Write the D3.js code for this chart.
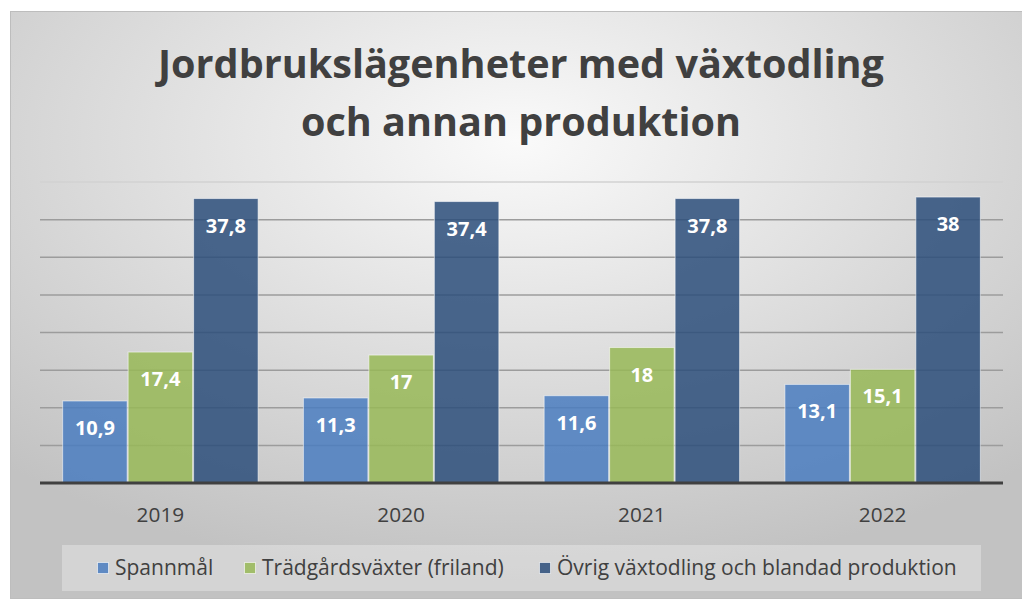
<!DOCTYPE html>
<html lang="sv">
<head>
    <meta charset="UTF-8">
    <title>Jordbrukslägenheter med växtodling och annan produktion</title>
    <script src="https://d3js.org/d3.v7.min.js"></script>
    <style>
        body { margin: 0; background: #fff; }
        svg { display: block; font-family: "Open Sans", "Noto Sans", sans-serif; }
    </style>
</head>
<body>
    <script>
        // Data
        const years = ["2019", "2020", "2021", "2022"];
        const seriesNames = ["Spannmål", "Trädgårdsväxter (friland)", "Övrig växtodling och blandad produktion"];
        const spannmal = [10.9, 11.3, 11.6, 13.1];
        const tradgard = [17.4, 17, 18, 15.1];
        const ovrig = [37.8, 37.4, 37.8, 38];
        const yTicks = [5, 10, 15, 20, 25, 30, 35, 40];
        const seriesColors = ["#4a7cbf", "#98b857", "#2c4d7a"];

        const W = 1022, H = 599;
        const svg = d3.select("body").append("svg")
            .attr("width", W)
            .attr("height", H);

        // bakgrund
        const defs = svg.append("defs");
        const grad = defs.append("radialGradient")
            .attr("id", "bg")
            .attr("cx", "50%").attr("cy", "22%")
            .attr("r", "75%");
        grad.append("stop").attr("offset", "0%").attr("stop-color", "#fafafa");
        grad.append("stop").attr("offset", "100%").attr("stop-color", "#c2c2c2");

        svg.append("rect")
            .attr("x", 10.5).attr("y", 11.5)
            .attr("width", W - 10).attr("height", 587)
            .attr("fill", "url(#bg)")
            .attr("stroke", "#bdbdbd")
            .attr("stroke-width", 1);

        // titel
        const title = svg.append("text")
            .attr("text-anchor", "middle")
            .attr("fill", "#404040")
            .attr("font-weight", "bold")
            .attr("font-size", 39.6);
        title.append("tspan").attr("x", 521).attr("y", 78).text("Jordbrukslägenheter med växtodling");
        title.append("tspan").attr("x", 521).attr("y", 136).text("och annan produktion");

        // skalor
        const x0 = d3.scaleBand()
            .domain(years)
            .range([40, 1003])
            .paddingInner(0.18)
            .paddingOuter(0.09);

        const x1 = d3.scaleBand()
            .domain(d3.range(seriesNames.length))
            .range([0, x0.bandwidth()])
            .padding(0.015);

        const y = d3.scaleLinear()
            .domain([0, 40])
            .range([483, 182]);

        // stödlinjer
        svg.append("g")
            .selectAll("line")
            .data(yTicks)
            .join("line")
            .attr("x1", 40).attr("x2", 1003)
            .attr("y1", d => y(d)).attr("y2", d => y(d))
            .attr("stroke", d => d === 40 ? "#d2d2d2" : "#9c9c9c")
            .attr("stroke-width", 1.5);

        const allSeries = [spannmal, tradgard, ovrig];
        const fmt = v => String(v).replace(".", ",");

        const groups = svg.append("g")
            .selectAll("g")
            .data(years)
            .join("g")
            .attr("transform", d => `translate(${x0(d)},0)`);

        const cells = groups.selectAll("g")
            .data((d, i) => allSeries.map((s, k) => ({ k: k, v: s[i] })))
            .join("g");

        cells.append("rect")
            .attr("x", d => x1(d.k))
            .attr("y", d => y(d.v))
            .attr("width", x1.bandwidth())
            .attr("height", d => y(0) - y(d.v))
            .attr("fill", d => seriesColors[d.k])
            .attr("fill-opacity", 0.85)
            .attr("stroke", "rgba(255,255,255,0.55)")
            .attr("stroke-width", 1);

        cells.append("text")
            .attr("x", d => x1(d.k) + x1.bandwidth() / 2)
            .attr("y", d => y(d.v) + 34)
            .attr("text-anchor", "middle")
            .attr("fill", "#ffffff")
            .attr("font-weight", "bold")
            .attr("font-size", 20)
            .text(d => fmt(d.v));

        // x-axel
        const xAxis = svg.append("g")
            .attr("transform", `translate(0,${y(0)})`)
            .call(d3.axisBottom(x0).tickSize(0).tickPadding(0));
        xAxis.select(".domain")
            .attr("d", "M40,0H1003")
            .attr("stroke", "#404040")
            .attr("stroke-width", 3);
        xAxis.selectAll("text")
            .attr("y", 39)
            .attr("dy", 0)
            .attr("fill", "#404040")
            .attr("font-size", 20.8)
            .attr("font-family", "'Open Sans', 'Noto Sans', sans-serif");

        // förklaring
        svg.append("rect")
            .attr("x", 62).attr("y", 545)
            .attr("width", 919).attr("height", 46)
            .attr("fill", "#ffffff")
            .attr("fill-opacity", 0.3);

        const legend = svg.append("g");
        const legendX = [97, 244, 539];
        const items = legend.selectAll("g")
            .data(seriesNames)
            .join("g")
            .attr("transform", (d, i) => `translate(${legendX[i]},0)`);
        items.append("rect")
            .attr("x", 0.5).attr("y", 562.5)
            .attr("width", 11).attr("height", 11)
            .attr("fill", (d, i) => seriesColors[i])
            .attr("fill-opacity", 0.85)
            .attr("stroke", "rgba(255,255,255,0.6)");
        items.append("text")
            .attr("x", 18).attr("y", 575)
            .attr("fill", "#404040")
            .attr("font-size", 21)
            .text(d => d);
    </script>
</body>
</html>
